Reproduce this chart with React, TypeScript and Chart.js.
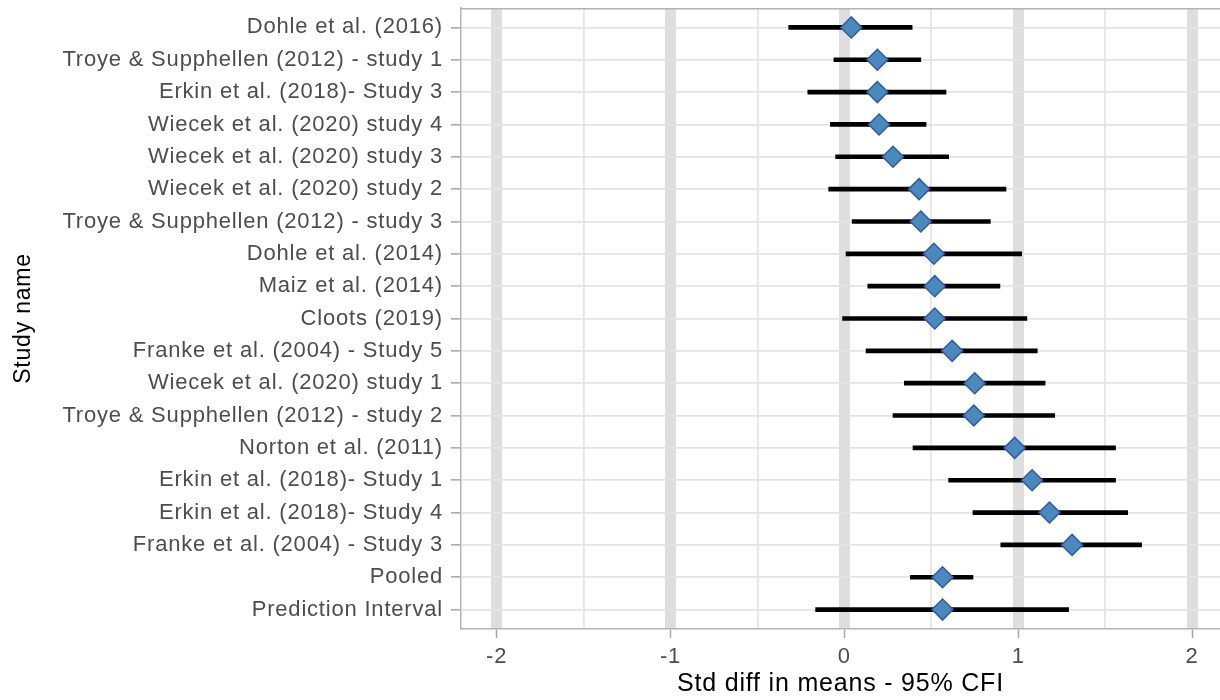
import React, { useEffect, useRef } from "react";
import { Chart, registerables } from "chart.js";

Chart.register(...registerables);

const studies = [
  "Dohle et al. (2016)",
  "Troye & Supphellen (2012) - study 1",
  "Erkin et al. (2018)- Study 3",
  "Wiecek et al. (2020) study 4",
  "Wiecek et al. (2020) study 3",
  "Wiecek et al. (2020) study 2",
  "Troye & Supphellen (2012) - study 3",
  "Dohle et al. (2014)",
  "Maiz et al. (2014)",
  "Cloots (2019)",
  "Franke et al. (2004) - Study 5",
  "Wiecek et al. (2020) study 1",
  "Troye & Supphellen (2012) - study 2",
  "Norton et al. (2011)",
  "Erkin et al. (2018)- Study 1",
  "Erkin et al. (2018)- Study 4",
  "Franke et al. (2004) - Study 3",
  "Pooled",
  "Prediction Interval",
];

const estimates = [0.04, 0.19, 0.19, 0.2, 0.28, 0.43, 0.44, 0.515, 0.52, 0.52, 0.62, 0.75, 0.745, 0.98, 1.08, 1.18, 1.31, 0.565, 0.565];
const lowerCI = [-0.32, -0.06, -0.21, -0.08, -0.05, -0.09, 0.045, 0.01, 0.135, -0.01, 0.125, 0.345, 0.28, 0.395, 0.6, 0.74, 0.9, 0.38, -0.165];
const upperCI = [0.39, 0.44, 0.585, 0.47, 0.6, 0.93, 0.84, 1.02, 0.895, 1.05, 1.11, 1.155, 1.21, 1.56, 1.56, 1.63, 1.71, 0.74, 1.29];

const xTickValues = [-2, -1.5, -1, -0.5, 0, 0.5, 1, 1.5, 2];
const xTitle = "Std diff in means - 95% CFI";
const yTitle = "Study name";

const FONT = "'Liberation Sans', Arial, sans-serif";

export default function App() {
  const ref = useRef<HTMLCanvasElement | null>(null);

  useEffect(() => {
    document.body.style.margin = "0";
    const canvas = ref.current;
    if (!canvas) return;

    const rows = studies.map((_, i) => i + 1);

    const panelBorder = {
      id: "panelBorder",
      beforeDraw(chart: any) {
        chart.ctx.letterSpacing = "0.8px";
      },
      beforeDatasetsDraw(chart: any) {
        const { ctx, chartArea } = chart;
        ctx.save();
        ctx.strokeStyle = "#b3b3b3";
        ctx.lineWidth = 1.5;
        ctx.beginPath();
        ctx.moveTo(chartArea.left, chartArea.top + 0.75);
        ctx.lineTo(chartArea.right, chartArea.top + 0.75);
        ctx.stroke();
        ctx.restore();
      },
    };

    const chart = new Chart(canvas, {
      type: "scatter",
      data: {
        datasets: [
          {
            type: "scatter",
            label: "Estimate",
            data: rows.map((r, i) => ({ x: estimates[i], y: r })),
            pointStyle: "rectRot",
            pointRadius: 10.5,
            pointBackgroundColor: "#4a89bb",
            pointBorderColor: "#3458a8",
            pointBorderWidth: 1.5,
            order: 0,
          } as any,
          {
            type: "bar",
            label: "CI",
            indexAxis: "y",
            data: rows.map((r, i) => ({ x: [lowerCI[i], upperCI[i]], y: r })),
            backgroundColor: "#000000",
            borderWidth: 0,
            borderSkipped: false,
            barThickness: 4,
            order: 1,
          } as any,
        ],
      },
      options: {
        animation: false,
        responsive: false,
        events: [],
        layout: { autoPadding: false, padding: { top: 8, left: 0, right: 0, bottom: 0 } },
        plugins: {
          legend: { display: false },
          tooltip: { enabled: false },
        },
        scales: {
          x: {
            type: "linear",
            position: "bottom",
            min: -2.205,
            max: 2.161,
            offset: false,
            afterBuildTicks(scale: any) {
              scale.ticks = xTickValues.map((v) => ({ value: v }));
            },
            afterFit(scale: any) {
              scale.height = 71;
              scale.paddingLeft = 0;
              scale.paddingRight = 0;
            },
            grid: {
              offset: false,
              color: (ctx: any) => (Number.isInteger(ctx.tick?.value) ? "#dedede" : "#e5e5e5"),
              lineWidth: (ctx: any) => (Number.isInteger(ctx.tick?.value) ? 11 : 1.8),
              tickColor: (ctx: any) => (Number.isInteger(ctx.tick?.value) ? "#a6a6a6" : "rgba(0,0,0,0)"),
              tickWidth: 1.5,
              tickLength: 9,
              drawTicks: true,
            },
            border: { display: true, color: "#b3b3b3", width: 1.5 },
            ticks: {
              autoSkip: false,
              maxRotation: 0,
              padding: 6,
              color: "#4d4d4d",
              font: { family: FONT, size: 22 },
              callback: (v: any) => (Number.isInteger(v) ? String(v) : ""),
            },
            title: {
              display: true,
              text: xTitle,
              color: "#000000",
              font: { family: FONT, size: 25 },
              padding: { top: 0, bottom: 1 },
            },
          },
          y: {
            type: "linear",
            position: "left",
            reverse: true,
            min: 0.4,
            max: 19.6,
            offset: false,
            afterBuildTicks(scale: any) {
              scale.ticks = rows.map((v) => ({ value: v }));
            },
            afterFit(scale: any) {
              scale.width = 461;
              scale.paddingTop = 0;
              scale.paddingBottom = 0;
            },
            grid: {
              offset: false,
              color: "#e3e3e3",
              lineWidth: 1.7,
              tickColor: "#a6a6a6",
              tickWidth: 1.5,
              tickLength: 10,
              drawTicks: true,
            },
            border: { display: true, color: "#b3b3b3", width: 1.5 },
            ticks: {
              autoSkip: false,
              padding: 8,
              color: "#4d4d4d",
              font: { family: FONT, size: 22 },
              callback: (v: any) => studies[Math.round(v) - 1] ?? "",
            },
            title: {
              display: true,
              text: yTitle,
              color: "#000000",
              font: { family: FONT, size: 23 },
              padding: { top: 10, bottom: 0 },
            },
          },
        },
      } as any,
      plugins: [panelBorder],
    });

    return () => chart.destroy();
  }, []);

  return (
    <div style={{ width: 1220, height: 700, background: "#ffffff" }}>
      <canvas ref={ref} width={1220} height={700} style={{ display: "block" }} />
    </div>
  );
}
